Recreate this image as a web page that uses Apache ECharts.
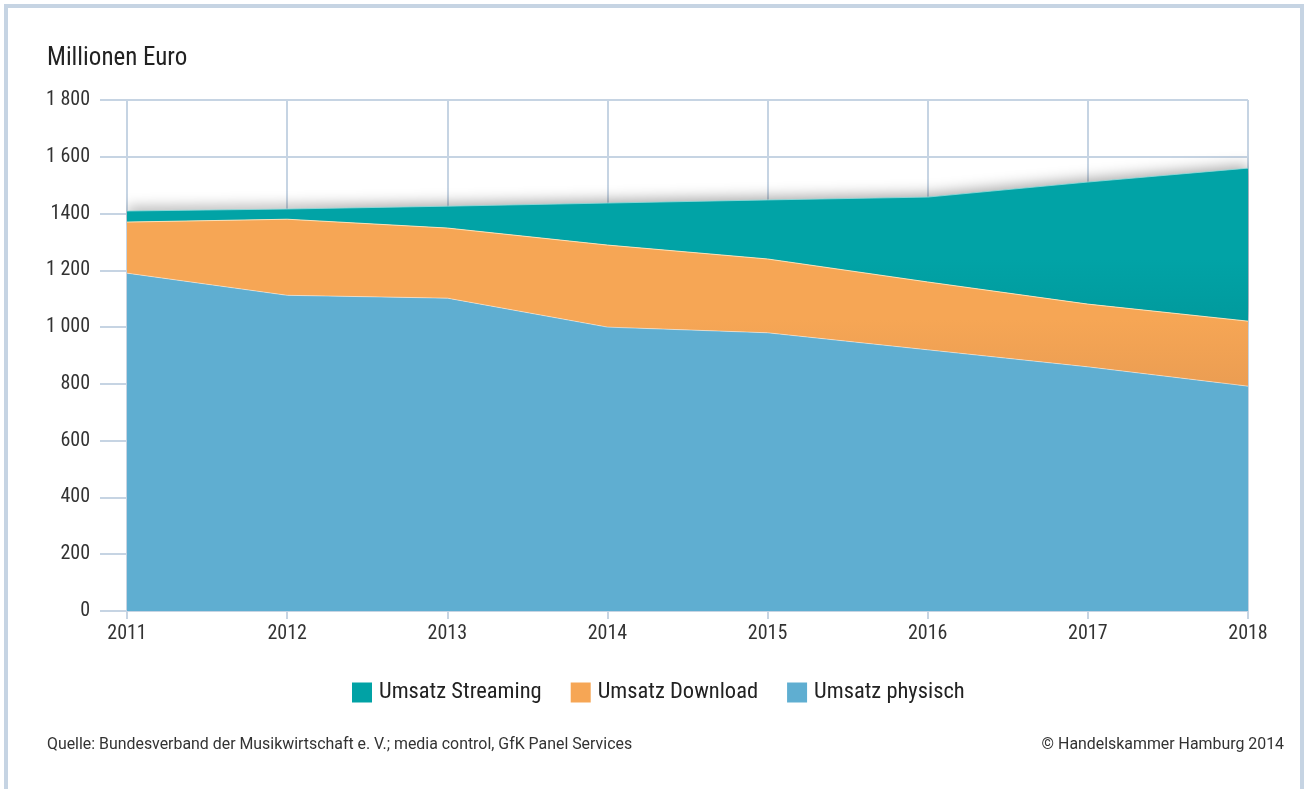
<!DOCTYPE html>
<html><head><meta charset="utf-8">
<script src="https://cdn.jsdelivr.net/npm/echarts@6/dist/echarts.min.js"></script>
<style>html,body{margin:0;padding:0;background:#fff}#c{width:1305px;height:789px}</style>
</head><body><div id="c"></div>
<script>
const years = ['2011','2012','2013','2014','2015','2016','2017','2018'];
const physisch = [1190, 1112, 1102, 1000, 980, 920, 860, 792];
const download = [180, 268, 247, 289, 260, 239, 221, 229];
const streaming = [39, 36, 77, 148, 208, 299, 430, 539];
const yTickLabels = {0:'0',200:'200',400:'400',600:'600',800:'800',1000:'1 000',1200:'1 200',1400:'1400',1600:'1 600',1800:'1 800'};
const FONT = '"Liberation Sans Narrow", "Roboto Condensed", Roboto, sans-serif';
const FONT2 = 'Roboto, "Open Sans", sans-serif';
const gridColor = '#c6d4e3';
const chart = echarts.init(document.getElementById('c'), null, {renderer:'canvas'});
function grad(top, bottom){
  return new echarts.graphic.LinearGradient(0,0,0,1,[{offset:0,color:top},{offset:0.6,color:top},{offset:1,color:bottom}]);
}
chart.setOption({
  animation:false,
  title:{text:'Millionen Euro',left:42,top:41,textStyle:{fontFamily:FONT,fontSize:25,fontWeight:'normal',color:'#222'}},
  grid:{left:127,right:57,top:100,bottom:178},
  legend:{
    data:['Umsatz Streaming','Umsatz Download','Umsatz physisch'],
    left:347,top:676,itemWidth:20,itemHeight:20,itemGap:29,icon:'rect',
    textStyle:{fontFamily:FONT,fontSize:22.5,color:'#222',padding:[0,0,0,2]}
  },
  xAxis:{type:'category',data:years,boundaryGap:false,
    axisLine:{show:false},
    axisTick:{show:true,length:8,lineStyle:{color:gridColor,width:2}},
    axisLabel:{margin:13,fontFamily:FONT,fontSize:20,color:'#333'},
    splitLine:{show:true,lineStyle:{color:gridColor,width:2}}
  },
  yAxis:{type:'value',min:0,max:1800,interval:200,
    axisLine:{show:false},
    axisTick:{show:true,length:27,lineStyle:{color:gridColor,width:2}},
    axisLabel:{margin:37,fontFamily:FONT,fontSize:20,color:'#333',formatter:v=>yTickLabels[v]},
    splitLine:{show:true,lineStyle:{color:gridColor,width:2}}
  },
  series:[
    {name:'Umsatz physisch',type:'line',stack:'a',data:physisch,symbol:'none',
      itemStyle:{color:'#5faed1'},lineStyle:{width:1,color:'rgba(255,255,255,0.45)'},
      areaStyle:{color:'#5faed1',opacity:1},z:3},
    {name:'Umsatz Download',type:'line',stack:'a',data:download,symbol:'none',
      itemStyle:{color:'#f6a655'},lineStyle:{width:1,color:'rgba(255,230,190,0.9)'},
      areaStyle:{color:grad('#f6a655','#eb9d52'),opacity:1},z:3},
    {name:'Umsatz Streaming',type:'line',stack:'a',data:streaming,symbol:'none',
      itemStyle:{color:'#01a2a5'},lineStyle:{width:1,color:'rgba(150,220,220,0.8)'},
      areaStyle:{color:grad('#01a3a6','#019a9d'),opacity:1,shadowColor:'rgba(0,0,0,0.35)',shadowBlur:14,shadowOffsetY:-3},z:2}
  ],
  graphic:[
    {type:'rect',shape:{x:6,y:6,width:1296,height:820},style:{fill:null,stroke:gridColor,lineWidth:4},silent:true},
    {type:'text',left:47,top:737,style:{text:'Quelle: Bundesverband der Musikwirtschaft e. V.; media control, GfK Panel Services',font:'15.9px '+FONT2,fill:'#333'}},
    {type:'text',right:21,top:737,style:{text:'© Handelskammer Hamburg 2014',font:'15.9px '+FONT2,fill:'#333'}}
  ]
});
</script></body></html>
